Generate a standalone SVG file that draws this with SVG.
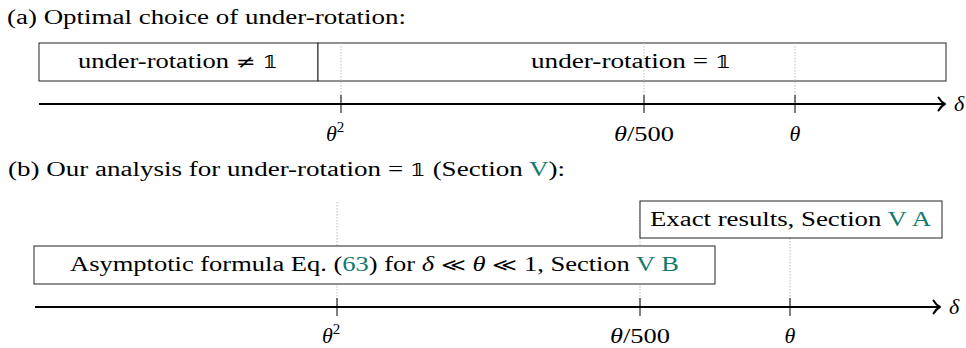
<svg xmlns="http://www.w3.org/2000/svg" width="966" height="348" viewBox="0 0 966 348">
<style>
.ln{fill:#117a6e}
.box{fill:#fff;stroke:#222;stroke-width:1}
.axis{stroke:#000;stroke-width:2;fill:none}
.tick{stroke:#000;stroke-width:1}
.dot{stroke:#bbb;stroke-width:1;stroke-dasharray:1.5 1.5}
.head{fill:none;stroke:#000;stroke-width:2;stroke-linecap:round;stroke-linejoin:round}
</style>
<text x="7" y="24" font-family="Liberation Serif" font-size="20" textLength="399" lengthAdjust="spacingAndGlyphs">(a) Optimal choice of under-rotation:</text>
<g id="boxA1"><rect class="box" x="39" y="43" width="279" height="38"/>
<text x="78" y="68" font-family="Liberation Serif" font-size="20" textLength="200" lengthAdjust="spacingAndGlyphs">under-rotation <tspan font-family="DejaVu Serif" font-size="18">≠</tspan> <tspan font-family="DejaVu Serif" font-size="17">𝟙</tspan></text></g>
<g id="boxA2"><rect class="box" x="318" y="43" width="628" height="38"/>
<text x="531" y="68" font-family="Liberation Serif" font-size="20" textLength="200" lengthAdjust="spacingAndGlyphs">under-rotation = <tspan font-family="DejaVu Serif" font-size="17">𝟙</tspan></text></g>
<g id="connectors">
<line class="dot" x1="341" y1="43" x2="341" y2="104"/>
<line class="dot" x1="644" y1="43" x2="644" y2="104"/>
<line class="dot" x1="795" y1="43" x2="795" y2="104"/>
<line class="axis" x1="39" y1="104" x2="944" y2="104"/>
<path class="head" d="M938.5,97.5 Q941,102 945,104 Q941,106 938.5,110.5"/>
<line class="tick" x1="341" y1="95" x2="341" y2="113"/>
<line class="tick" x1="644" y1="95" x2="644" y2="113"/>
<line class="tick" x1="795" y1="95" x2="795" y2="113"/>
<line class="dot" x1="337" y1="202" x2="337" y2="307"/>
<line class="dot" x1="640" y1="202" x2="640" y2="307"/>
<line class="dot" x1="790" y1="202" x2="790" y2="307"/>
<line class="axis" x1="35" y1="307" x2="939" y2="307"/>
<path class="head" d="M933.5,300.5 Q936,305 940,307 Q936,309 933.5,313.5"/>
<line class="tick" x1="337" y1="298" x2="337" y2="316"/>
<line class="tick" x1="640" y1="298" x2="640" y2="316"/>
<line class="tick" x1="790" y1="298" x2="790" y2="316"/>
</g>
<text x="954" y="111" font-family="Liberation Serif" font-size="22" font-style="italic">δ</text>
<text x="326" y="141" font-family="Liberation Serif" font-size="22" font-style="italic">θ<tspan font-size="15" font-style="normal" dy="-9">2</tspan></text>
<text x="614" y="141" font-family="Liberation Serif" font-size="22" textLength="60" lengthAdjust="spacingAndGlyphs"><tspan font-style="italic">θ</tspan>/500</text>
<text x="795" y="141" font-family="Liberation Serif" font-size="22" font-style="italic" text-anchor="middle">θ</text>
<text x="8" y="176" font-family="Liberation Serif" font-size="20" textLength="557" lengthAdjust="spacingAndGlyphs">(b) Our analysis for under-rotation = <tspan font-family="DejaVu Serif" font-size="17">𝟙</tspan> (Section <tspan class="ln">V</tspan>):</text>
<g id="boxB1"><rect class="box" x="640" y="201" width="302" height="37"/>
<text x="650" y="226" font-family="Liberation Serif" font-size="20" textLength="281" lengthAdjust="spacingAndGlyphs">Exact results, Section <tspan class="ln">V A</tspan></text></g>
<g id="boxB2"><rect class="box" x="34" y="246" width="681" height="38"/>
<text x="70" y="271" font-family="Liberation Serif" font-size="20" textLength="609" lengthAdjust="spacingAndGlyphs">Asymptotic formula Eq. (<tspan class="ln">63</tspan>) for <tspan font-style="italic">δ</tspan> <tspan font-family="DejaVu Serif" font-size="18">≪</tspan> <tspan font-style="italic">θ</tspan> <tspan font-family="DejaVu Serif" font-size="18">≪</tspan> 1, Section <tspan class="ln">V B</tspan></text></g>
<text x="949" y="314" font-family="Liberation Serif" font-size="22" font-style="italic">δ</text>
<text x="322" y="343" font-family="Liberation Serif" font-size="22" font-style="italic">θ<tspan font-size="15" font-style="normal" dy="-9">2</tspan></text>
<text x="610" y="343" font-family="Liberation Serif" font-size="22" textLength="60" lengthAdjust="spacingAndGlyphs"><tspan font-style="italic">θ</tspan>/500</text>
<text x="790" y="343" font-family="Liberation Serif" font-size="22" font-style="italic" text-anchor="middle">θ</text>
</svg>
